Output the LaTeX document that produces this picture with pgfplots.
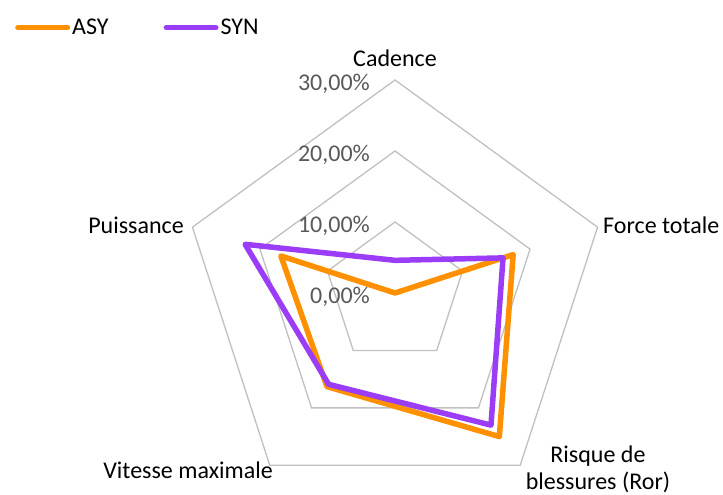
\documentclass[border=0pt]{standalone}
\usepackage{pgfplots}
\pgfplotsset{compat=1.18}
\usepackage{pgfplotstable}
\usepackage{fontspec}
\setmainfont{Carlito}
\definecolor{asy}{HTML}{FF9100}
\definecolor{syn}{HTML}{9B3DF6}
\definecolor{gridc}{HTML}{C0C0C0}
\definecolor{tickc}{HTML}{595959}

% a = angle of the category axis (degrees), values in %
\pgfplotstableread{
a ASY SYN
90 0.0 4.6
18 17.5 16.0
-54 25.0 23.0
-126 16.3 15.9
162 16.9 22.2
}\radar

\begin{document}
\begin{tikzpicture}[font=\fontsize{24}{29}\selectfont]
\useasboundingbox (0,0) rectangle (723pt,495pt);
\begin{axis}[
  at={(0pt,0pt)}, anchor=south west,
  scale only axis, width=723pt, height=495pt,
  xmin=-55.634, xmax=46.197, ymin=-28.451, ymax=41.268,
  hide axis, clip=false,
  legend columns=2,
  legend style={at={(axis cs:-53.52,37.37)}, anchor=west, draw=none, fill=none,
    inner sep=0pt, font=\fontsize{24}{29}\selectfont,
    /tikz/every even column/.append style={column sep=53pt}},
  legend image code/.code={\draw[#1, line width=5.5pt, line cap=round] (2.75pt,0pt) -- (52.25pt,0pt);},
]
% grid pentagons
\addplot[gridc, line width=1.3pt, forget plot] table[x expr={10*cos(\thisrow{a})}, y expr={10*sin(\thisrow{a})}] {\radar} -- cycle;
\addplot[gridc, line width=1.3pt, forget plot] table[x expr={20*cos(\thisrow{a})}, y expr={20*sin(\thisrow{a})}] {\radar} -- cycle;
\addplot[gridc, line width=1.3pt, forget plot] table[x expr={30*cos(\thisrow{a})}, y expr={30*sin(\thisrow{a})}] {\radar} -- cycle;
% series
\addplot[asy, line width=5.5pt, line join=round] table[x expr={\thisrow{ASY}*cos(\thisrow{a})}, y expr={\thisrow{ASY}*sin(\thisrow{a})}] {\radar} -- cycle;
\addlegendentry{ASY}
\addplot[syn, line width=5.5pt, line join=round] table[x expr={\thisrow{SYN}*cos(\thisrow{a})}, y expr={\thisrow{SYN}*sin(\thisrow{a})}] {\radar} -- cycle;
\addlegendentry{SYN}
% tick labels
\node[anchor=base east, text=tickc, inner sep=0pt] at (axis cs:-3.52,28.59) {30,00\%};
\node[anchor=base east, text=tickc, inner sep=0pt] at (axis cs:-3.52,18.59) {20,00\%};
\node[anchor=base east, text=tickc, inner sep=0pt] at (axis cs:-3.52,8.59) {10,00\%};
\node[anchor=base east, text=tickc, inner sep=0pt] at (axis cs:-3.52,-1.41) {0,00\%};
% category labels
\node[anchor=base, inner sep=0pt] at (axis cs:0,31.97) {Cadence};
\node[anchor=base west, inner sep=0pt] at (axis cs:29.30,8.45) {Force totale};
\node[anchor=base, inner sep=0pt] at (axis cs:28.59,-23.94) {Risque de};
\node[anchor=base, inner sep=0pt] at (axis cs:28.59,-27.61) {blessures (Ror)};
\node[anchor=base east, inner sep=0pt] at (axis cs:-17.18,-26.06) {Vitesse maximale};
\node[anchor=base east, inner sep=0pt] at (axis cs:-29.72,8.45) {Puissance};
\end{axis}
\end{tikzpicture}
\end{document}
